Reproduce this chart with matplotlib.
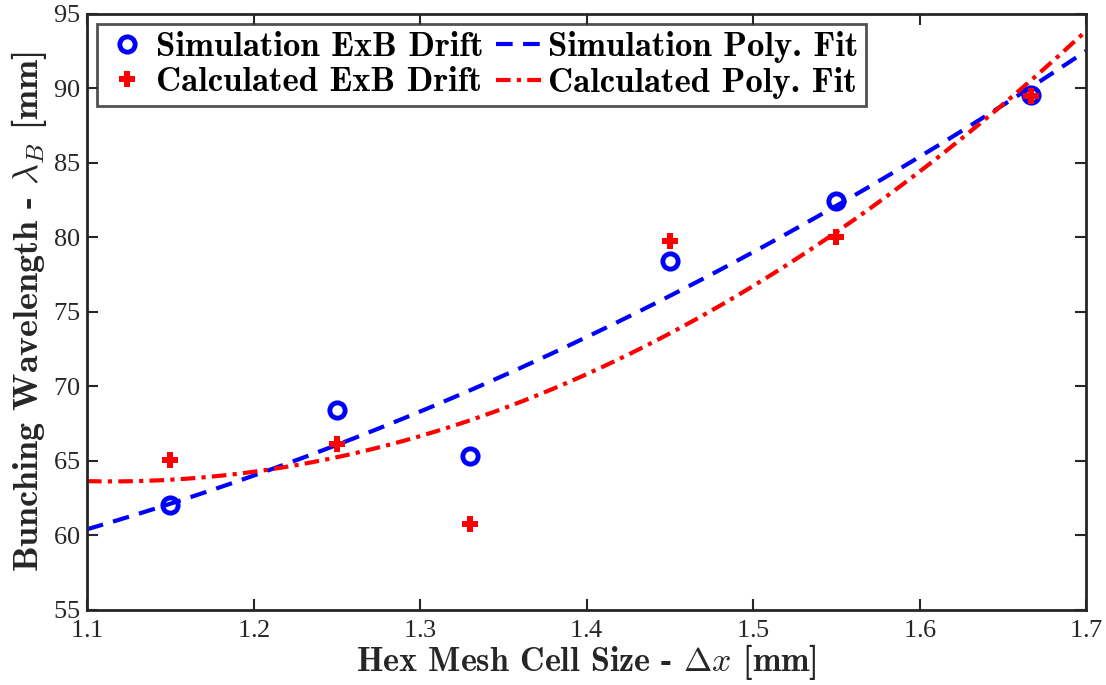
import numpy as np
import matplotlib
matplotlib.use('Agg')
import matplotlib.pyplot as plt

plt.rcParams['font.family'] = 'cmr10'
plt.rcParams['mathtext.fontset'] = 'cm'
plt.rcParams['axes.formatter.use_mathtext'] = True

# data
cell_size = [1.15, 1.25, 1.33, 1.45, 1.55, 1.667]
sim_drift = [62.05, 68.4, 65.35, 78.45, 82.45, 89.55]
calc_drift = [65.05, 66.15, 60.75, 79.75, 80.0, 89.5]

xfit = np.linspace(1.1, 1.7, 200)
sim_fit = np.polyval(np.polyfit(cell_size, sim_drift, 2), xfit)
calc_fit = np.polyval(np.polyfit(cell_size, calc_drift, 2), xfit)

fig = plt.figure(figsize=(11.06, 6.85), dpi=100)
ax = fig.add_axes([0.0787, 0.1095, 0.9033, 0.8701])

ax.plot(cell_size, sim_drift, 'o', color='blue', mfc='none', mew=3.5, ms=11,
        label='Simulation ExB Drift', zorder=3)
ax.plot(cell_size, calc_drift, 'P', color='red', mec='red', mew=0, ms=12,
        label='Calculated ExB Drift', zorder=4)
ax.plot(xfit, sim_fit, '--', color='blue', lw=3, dashes=(4, 2.5),
        label='Simulation Poly. Fit', zorder=2)
ax.plot(xfit, calc_fit, '-.', color='red', lw=3, dashes=(3.5, 1.5, 1, 1.5),
        label='Calculated Poly. Fit', zorder=2)

ax.set_xlim(1.1, 1.7)
ax.set_ylim(55, 95)
ax.set_xticks(np.arange(1.1, 1.71, 0.1))
ax.set_yticks(np.arange(55, 96, 5))
ax.tick_params(direction='in', length=8, width=1.5, top=True, right=True,
               labelsize=19, colors='#262626')
ax.tick_params(axis='x', pad=7)
ax.tick_params(axis='y', pad=5)
for lab in ax.get_xticklabels() + ax.get_yticklabels():
    lab.set_family('Liberation Serif')
for s in ax.spines.values():
    s.set_linewidth(2)
    s.set_color('#262626')

ax.set_xlabel(r'Hex Mesh Cell Size - $\Delta x$ [mm]', fontsize=24.5,
              family='cmb10', color='#262626', labelpad=0)
ax.set_ylabel(r'Bunching Wavelength - $\lambda_B$ [mm]', fontsize=26,
              family='cmb10', color='#262626', labelpad=3)

leg = ax.legend(loc='upper left', ncol=2, frameon=True,
                prop={'family': 'cmb10', 'size': 25},
                fancybox=False, edgecolor='#262626', handlelength=1.3,
                handletextpad=0.2, columnspacing=0.35, borderpad=0.2,
                labelspacing=0.1, borderaxespad=0.3)
leg.get_frame().set_linewidth(2)

fig.savefig('out.png', dpi=100)
